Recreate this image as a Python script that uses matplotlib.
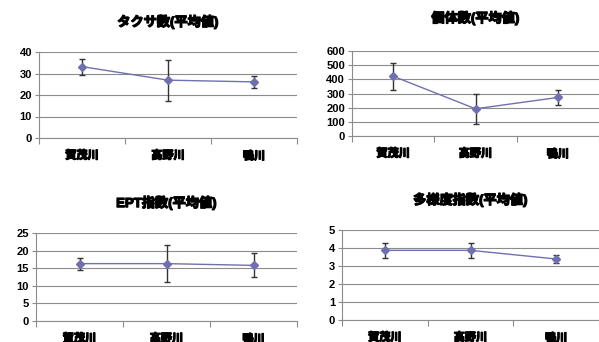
import matplotlib
matplotlib.use("Agg")
import matplotlib.pyplot as plt
import matplotlib.patheffects as pe
import numpy as np

plt.rcParams["font.family"] = ["Liberation Sans", "Noto Sans CJK JP", "DejaVu Sans"]

rivers = ["賀茂川", "高野川", "鴨川"]

titles = ["タクサ数(平均値)", "個体数(平均値)", "EPT指数(平均値)", "多様度指数(平均値)"]

taxa_mean = [33.2, 26.9, 26.1]
taxa_err = [3.7, 9.5, 2.9]
indiv_mean = [422, 192, 272]
indiv_err = [94, 107, 50]
ept_mean = [16.3, 16.3, 15.8]
ept_err = [1.7, 5.2, 3.4]
div_mean = [3.87, 3.87, 3.39]
div_err = [0.41, 0.40, 0.22]

means = [taxa_mean, indiv_mean, ept_mean, div_mean]
errs = [taxa_err, indiv_err, ept_err, div_err]
yticks = [np.arange(0, 41, 10), np.arange(0, 601, 100), np.arange(0, 26, 5), np.arange(0, 6, 1)]

W, H = 599, 342
# (left, bottom, right, top) in pixels from top-left
boxes = [(39, 138, 297, 52), (352, 136, 599, 51), (36, 321, 297, 233), (342, 320, 599, 230)]
title_y = [22, 18, 203, 200]

fig = plt.figure(figsize=(W / 100, H / 100), dpi=100)

line_c = "#7070B0"
grid_c = "#8C8C8C"
heavy = [pe.withStroke(linewidth=0.9, foreground="black")]

for i in range(4):
    l, b, r, t = boxes[i]
    ax = fig.add_axes([l / W, (H - b) / H, (r - l) / W, (b - t) / H])
    x = np.arange(3)
    ax.errorbar(x, means[i], yerr=errs[i], color=line_c, lw=1.0,
                marker="D", ms=4, mfc=line_c, mec=line_c,
                ecolor="#333333", elinewidth=1.0, capsize=2.5, capthick=1.0)
    ax.set_xlim(-0.5, 2.5)
    ax.set_ylim(yticks[i][0], yticks[i][-1])
    ax.set_yticks(yticks[i])
    ax.set_yticklabels([str(v) for v in yticks[i]], fontsize=8, fontweight="bold")
    ax.set_xticks([-0.5, 0.5, 1.5, 2.5])
    ax.set_xticklabels([])
    ax.set_xticks(x, minor=True)
    labs = ax.set_xticklabels(rivers, minor=True, fontsize=8, fontweight="bold")
    for lb in labs:
        lb.set_path_effects(heavy)
    ax.tick_params(axis="x", which="major", length=4, color=grid_c, direction="out")
    ax.tick_params(axis="x", which="minor", length=0, pad=9)
    ax.tick_params(axis="y", length=3, color=grid_c, pad=2)
    ax.grid(axis="y", color=grid_c, lw=0.8)
    ax.set_axisbelow(True)
    for s in ["top", "right"]:
        ax.spines[s].set_visible(False)
    for s in ["left", "bottom"]:
        ax.spines[s].set_color(grid_c)
        ax.spines[s].set_linewidth(0.8)
    cx = (l + r) / 2
    fig.text(cx / W, 1 - title_y[i] / H, titles[i], ha="center", va="center",
             fontsize=9.5, fontweight="bold", path_effects=heavy)

fig.savefig("out.png", dpi=100)
